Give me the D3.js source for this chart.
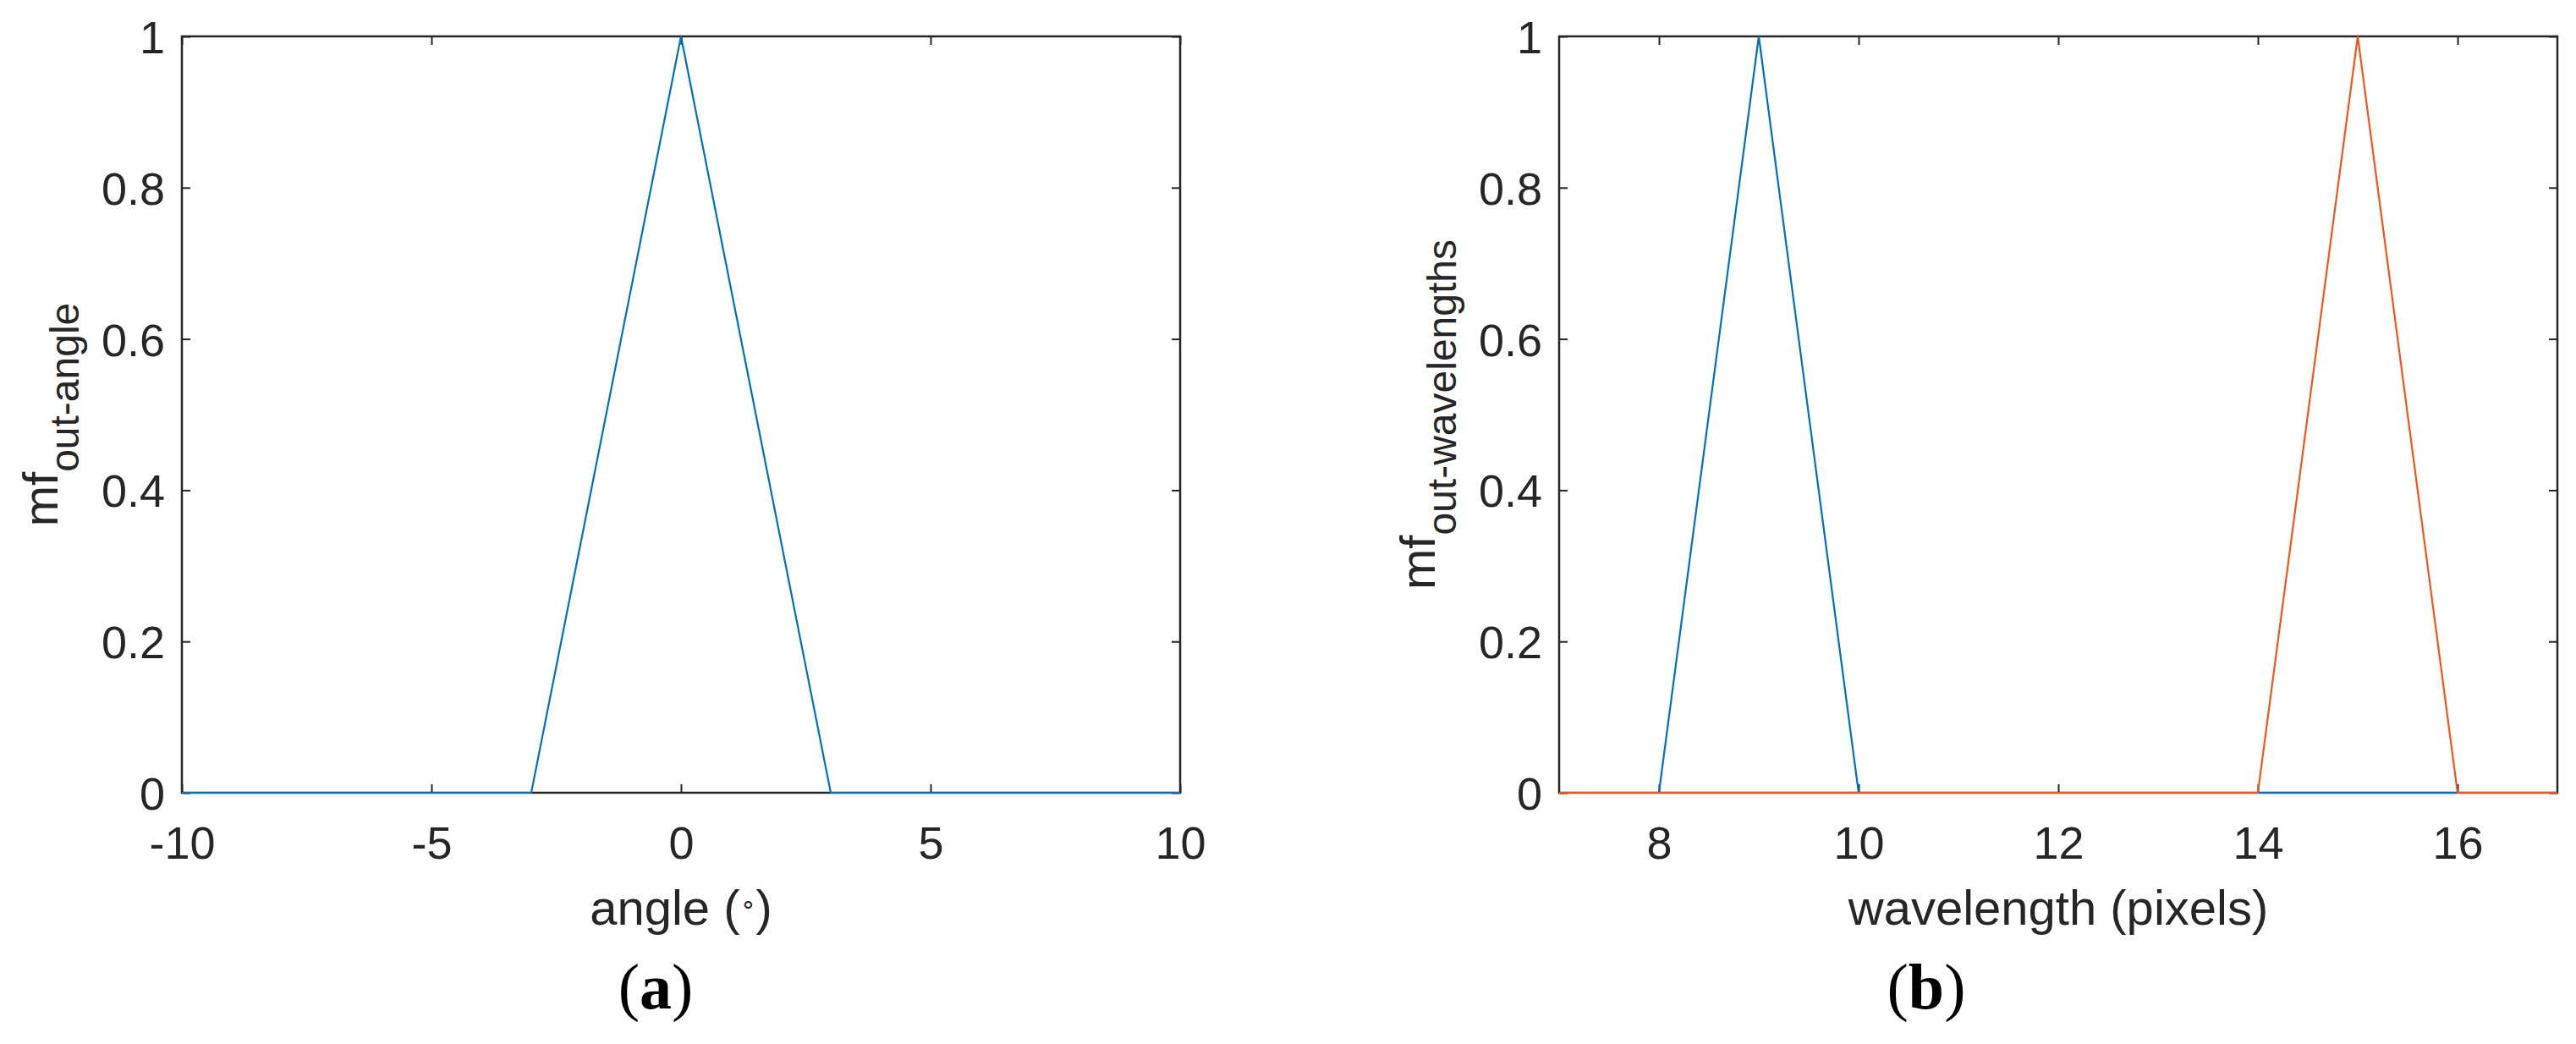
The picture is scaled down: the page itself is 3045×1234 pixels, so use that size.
<!DOCTYPE html>
<html>
<head>
<meta charset="utf-8">
<script src="https://cdn.jsdelivr.net/npm/d3@7"></script>
<style>
  html, body { margin: 0; padding: 0; background: #fff; }
  svg { display: block; }
</style>
</head>
<body>
<svg id="fig" width="3045" height="1234"></svg>
<script>
// ---- data ----
const angleX = [-10, -3, 0, 3, 10];
const angleMF = [0, 0, 1, 0, 0];
const waveX = [7, 8, 9, 10, 17];
const waveMF1 = [0, 0, 1, 0, 0];
const waveX2 = [7, 14, 15, 16, 17];
const waveMF2 = [0, 0, 1, 0, 0];
const angleTicks = [-10, -5, 0, 5, 10];
const angleTickLabels = ["-10", "-5", "0", "5", "10"];
const waveTicks = [8, 10, 12, 14, 16];
const waveTickLabels = ["8", "10", "12", "14", "16"];
const yTicks = [0, 0.2, 0.4, 0.6, 0.8, 1];
const yTickLabels = ["0", "0.2", "0.4", "0.6", "0.8", "1"];

const BLUE = "#0072BD";
const ORANGE = "#F4561A";
const AXC = "#262626";
const SANS = "'Liberation Sans', Arial, Helvetica, sans-serif";
const SERIF = "'Liberation Serif', 'Times New Roman', serif";

const svg = d3.select("#fig");
svg.append("rect").attr("width", 3045).attr("height", 1234).attr("fill", "#fff");

function panel(opts) {
  const {left, right, top, bottom, xDomain, xTicks, xTickLabels, series, xlabel, sub, panelLabel, panelX} = opts;
  const x = d3.scaleLinear().domain(xDomain).range([left, right]);
  const y = d3.scaleLinear().domain([0, 1]).range([bottom, top]);
  const g = svg.append("g");

  // axes
  const xb = g.append("g").attr("transform", `translate(0,${bottom})`)
    .call(d3.axisBottom(x).tickValues(xTicks).tickSizeInner(-10).tickSizeOuter(0).tickPadding(40)
      .tickFormat((d, i) => xTickLabels[i]));
  const xt = g.append("g").attr("transform", `translate(0,${top})`)
    .call(d3.axisTop(x).tickValues(xTicks).tickSizeInner(-10).tickSizeOuter(0).tickFormat(""));
  const yl = g.append("g").attr("transform", `translate(${left},0)`)
    .call(d3.axisLeft(y).tickValues(yTicks).tickSizeInner(-10).tickSizeOuter(0).tickPadding(20)
      .tickFormat((d, i) => yTickLabels[i]));
  const yr = g.append("g").attr("transform", `translate(${right},0)`)
    .call(d3.axisRight(y).tickValues(yTicks).tickSizeInner(-10).tickSizeOuter(0).tickFormat(""));

  [xb, xt, yl, yr].forEach(a => {
    a.select(".domain").remove();
    a.selectAll("line").attr("stroke", AXC).attr("stroke-width", 2);
    a.selectAll("text").attr("fill", AXC).style("font-family", SANS).style("font-size", "54px");
  });
  yl.selectAll("text").attr("dy", "0.36em");

  // box
  g.append("rect").attr("x", left).attr("y", top)
    .attr("width", right - left).attr("height", bottom - top)
    .attr("fill", "none").attr("stroke", AXC).attr("stroke-width", 2.5);

  // lines
  const line = d3.line().x(d => x(d[0])).y(d => y(d[1]));
  series.forEach(s => {
    g.append("path").datum(s.xs.map((v, i) => [v, s.ys[i]]))
      .attr("d", line).attr("fill", "none")
      .attr("stroke", s.color).attr("stroke-width", 2.2)
      .attr("stroke-linejoin", "miter");
  });

  // x label
  const xlab = g.append("text").attr("x", (left + right) / 2).attr("y", bottom + 156)
    .attr("text-anchor", "middle").attr("fill", AXC)
    .style("font-family", SANS).style("font-size", "58px");
  xlabel(xlab);

  // y label
  const ylab = g.append("text")
    .attr("transform", `translate(${left - 147},${(top + bottom) / 2}) rotate(-90)`)
    .attr("text-anchor", "middle").attr("fill", AXC)
    .style("font-family", SANS).style("font-size", "58px");
  ylab.append("tspan").text("mf");
  ylab.append("tspan").attr("dy", 25).style("font-size", "48px").text(sub);

  // panel label
  const pl = svg.append("text").attr("x", panelX).attr("y", 1192)
    .attr("text-anchor", "middle").attr("fill", "#000")
    .style("font-family", SERIF).style("font-size", "76px");
  pl.append("tspan").text("(");
  pl.append("tspan").style("font-weight", "bold").text(panelLabel);
  pl.append("tspan").text(")");
}

panel({
  left: 215, right: 1395, top: 43, bottom: 937,
  xDomain: [-10, 10], xTicks: angleTicks, xTickLabels: angleTickLabels,
  series: [{xs: angleX, ys: angleMF, color: BLUE}],
  xlabel: t => {
    t.append("tspan").text("angle (");
    t.append("tspan").attr("dy", -14).style("font-size", "30px").text("∘");
    t.append("tspan").attr("dy", 14).text(")");
  },
  sub: "out-angle", panelLabel: "a", panelX: 775
});

panel({
  left: 1843, right: 3023, top: 43, bottom: 937,
  xDomain: [7, 17], xTicks: waveTicks, xTickLabels: waveTickLabels,
  series: [{xs: waveX, ys: waveMF1, color: BLUE}, {xs: waveX2, ys: waveMF2, color: ORANGE}],
  xlabel: t => { t.text("wavelength (pixels)"); },
  sub: "out-wavelengths", panelLabel: "b", panelX: 2277
});
</script>
</body>
</html>
